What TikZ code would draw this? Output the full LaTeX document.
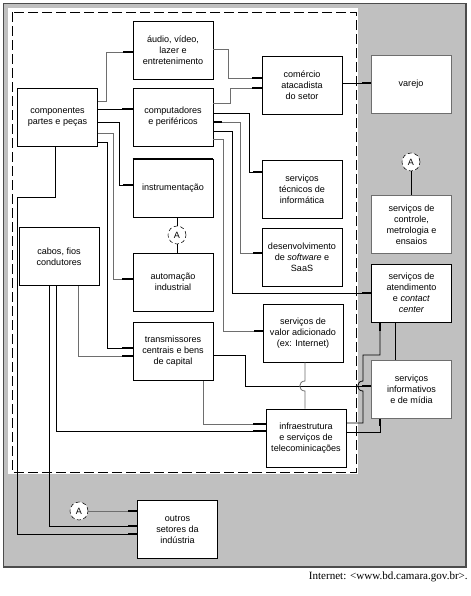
\documentclass[tikz,border=0pt]{standalone}
\usepackage{fontspec}
\setmainfont{Liberation Serif}
\setsansfont{Liberation Sans}
\usepackage{tikz}
\definecolor{fundo}{HTML}{C0C0C0}
\definecolor{cinzafio}{HTML}{6E6E6E}
\tikzset{
  caixa/.style={draw, fill=white, line width=0.7pt, minimum width=60pt,
    minimum height=43.5pt, inner sep=1pt, align=center,
    font=\sffamily\fontsize{6.8}{8.2}\selectfont},
  caixacinza/.style={caixa, draw=cinzafio},
  circA/.style={circle, draw, densely dashed, line width=0.4pt, fill=white,
    minimum size=13.5pt, inner sep=0pt, font=\sffamily\fontsize{6.8}{8}\selectfont},
  ligacao/.style={line width=0.6pt, black},
  ligacaocinza/.style={line width=0.6pt, cinzafio},
  ponta/.style={line width=1.4pt, black}
}

\begin{document}
\begin{tikzpicture}[x=0.75pt,y=-0.75pt]
\useasboundingbox (0,0) rectangle (471,596);
\fill[white] (0,0) rectangle (471,596);
\draw[fill=fundo, draw=black!70, line width=1.2pt] (3.5,3.5) rectangle (466,567);
\fill[white] (8,8) rectangle (358,474);
\draw[line width=0.6pt, dash pattern=on 7.5pt off 3pt] (12,12) rectangle (356,472);

\node[caixa] (audio) at (173,50.5) {áudio, vídeo,\\lazer e\\entretenimento};
\node[caixa] (comp) at (57.5,117) {componentes\\partes e peças};
\node[caixa] (pc) at (173,117) {computadores\\e periféricos};
\node[caixa] (instr) at (173,188) {instrumentação};
\node[caixa] (cabos) at (59,256.5) {cabos, fios\\condutores};
\node[caixa] (autom) at (173,282) {automação\\industrial};
\node[caixa] (transm) at (173,351.5) {transmissores\\centrais e bens\\de capital};
\node[caixa] (comercio) at (302,85.5) {comércio\\atacadista\\do setor};
\node[caixa] (tecnicos) at (302,189) {serviços\\técnicos de\\informática};
\node[caixa] (desenv) at (302,257.5) {desenvolvimento\\de \textit{software} e\\SaaS};
\node[caixa] (valor) at (303,333) {serviços de\\valor adicionado\\(ex: Internet)};
\node[caixa] (infra) at (306,438) {infraestrutura\\e serviços de\\telecominicações};
\node[caixacinza] (varejo) at (411,84.5) {varejo};
\node[caixacinza] (controle) at (411.5,224.5) {serviços de\\controle,\\metrologia e\\ensaios};
\node[caixa] (atend) at (411.5,293) {serviços de\\atendimento\\e \textit{contact}\\\textit{center}};
\node[caixacinza] (inform) at (411.5,389.5) {serviços\\informativos\\e de mídia};
\node[caixa] (outros) at (177.5,529.5) {outros\\setores da\\indústria};
\draw[line width=1.5pt] (instr.north west) -- (instr.north east);

\node[circA] (a1) at (177,235) {A};
\node[circA] (a2) at (411,162) {A};
\node[circA] (a3) at (79,511) {A};

\draw[ligacaocinza] (comp.east |- 0,101) -| (106,52) -- (audio.west |- 0,52);
\draw[ligacao] (comp.east |- 0,109) -- (pc.west |- 0,109);
\draw[ligacao] (comp.east |- 0,122) -| (119,185) -- (instr.west |- 0,185);
\draw[ligacaocinza] (comp.east |- 0,133) -| (113,279) -- (autom.west |- 0,279);
\draw[ligacao] (comp.east |- 0,142) -| (107,348) -- (transm.west |- 0,348);
\draw[ligacao] (comp.south -| 55,0) |- (17,197) |- (outros.west |- 0,534);
\draw[ligacao] (cabos.south -| 49,0) |- (outros.west |- 0,526);
\draw[ligacao] (cabos.south -| 56,0) |- (infra.west |- 0,431);
\draw[ligacaocinza] (cabos.south -| 78,0) |- (transm.west |- 0,356);
\draw[ligacaocinza] (a3) -- (outros.west |- a3);

\draw[ligacaocinza] (audio.east |- 0,49) -| (228,78) -- (comercio.west |- 0,78);
\draw[ligacaocinza] (pc.east |- 0,103) -| (230,88) -- (comercio.west |- 0,88);
\draw[ligacao] (pc.east |- 0,113) -| (249,172) -- (tecnicos.west |- 0,172);
\draw[ligacaocinza] (pc.east |- 0,122) -| (240,253) -- (desenv.west |- 0,253);
\draw[ligacao] (pc.east |- 0,131) -| (232,293) -- (atend.west |- 0,293);
\draw[ligacaocinza] (pc.east |- 0,139) -| (223,331) -- (valor.west |- 0,331);
\draw[ligacao] (comercio.east |- 0,83) -- (varejo.west |- 0,83);

\draw[ligacao] (instr.south -| a1) -- (a1);
\draw[ligacao] (a1) -- (autom.north -| a1);
\draw[ligacao] (a2) -- (controle.north -| a2);

\draw[ligacao] (transm.east |- 0,355) -| (245,386) -- (inform.west |- 0,386);
\draw[ligacaocinza] (transm.south -| 203,0) |- (infra.west |- 0,424);
\draw[ligacaocinza] (valor.south -| 305,0) -- (305,381) .. controls (298,381) and (298,391) .. (305,391) -- (infra.north -| 305,0);
\draw[ligacao] (atend.south -| 395,0) -- (inform.north -| 395,0);
\draw[ligacao] (atend.south -| 380,0) |- (363,355) -- (363,381) .. controls (356,381) and (356,391) .. (363,391) |- (infra.east |- 0,423);
\draw[ligacao] (inform.south -| 380,0) |- (infra.east |- 0,432);

\draw[ponta] (audio.west |- 0,52) -- ++(-10,0);
\draw[ponta] (pc.west |- 0,109) -- ++(-11,0);
\draw[ponta] (instr.west |- 0,185) -- ++(-10,0);
\draw[ponta] (autom.west |- 0,279) -- ++(-11,0);
\draw[ponta] (transm.west |- 0,348) -- ++(-11,0);
\draw[ponta] (transm.west |- 0,356) -- ++(-11,0);
\draw[ponta] (comercio.west |- 0,78) -- ++(-10,0);
\draw[ponta] (comercio.west |- 0,88) -- ++(-10,0);
\draw[ponta] (varejo.west |- 0,83) -- ++(-9,0);
\draw[ponta] (tecnicos.west |- 0,172) -- ++(-9,0);
\draw[ponta] (desenv.west |- 0,253) -- ++(-9,0);
\draw[ponta] (atend.west |- 0,293) -- ++(-9,0);
\draw[ponta] (valor.west |- 0,331) -- ++(-9,0);
\draw[ponta] (inform.west |- 0,386) -- ++(-9,0);
\draw[ponta] (infra.west |- 0,424) -- ++(-13,0);
\draw[ponta] (infra.west |- 0,431) -- ++(-13,0);
\draw[ponta] (outros.west |- 0,511) -- ++(-9,0);
\draw[ponta] (outros.west |- 0,526) -- ++(-9,0);
\draw[ponta] (outros.west |- 0,534) -- ++(-9,0);
\draw[ponta] (pc.east |- 0,122) -- ++(9,0);
\draw[ponta] (atend.south -| 380,0) -- ++(0,9);
\draw[ponta] (inform.south -| 380,0) -- ++(0,7);

\node[anchor=east, inner sep=0pt, font=\fontsize{8.3}{10}\selectfont] (fonte) at (468,577) {Internet: \textless www.bd.camara.gov.br\textgreater.};
\end{tikzpicture}
\end{document}
